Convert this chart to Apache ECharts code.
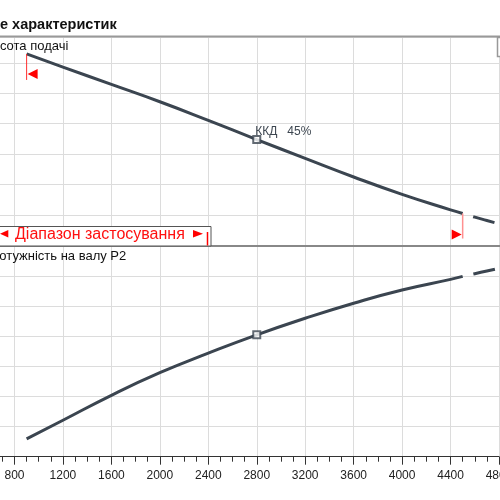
<!DOCTYPE html>
<html><head><meta charset="utf-8">
<script src="https://cdn.jsdelivr.net/npm/echarts@6/dist/echarts.min.js"></script>
<style>html,body{margin:0;padding:0;background:#fff;overflow:hidden}#c{width:500px;height:500px}</style>
</head><body><div id="c"></div>
<script>
// ---- data ----
const flowSolid  = [900, 1200, 1600, 2000, 2400, 2800, 3200, 3600, 4000, 4400, 4500];
const headSolid  = [6.29, 5.86, 5.29, 4.72, 4.11, 3.48, 2.86, 2.25, 1.68, 1.17, 1.05];
const powerSolid = [0.59, 1.21, 2.04, 2.79, 3.44, 4.05, 4.60, 5.10, 5.54, 5.89, 5.99];
const flowExt  = [4500, 4600, 4700, 4800];
const headExt  = [1.05, 0.93, 0.82, 0.71];
const powerExt = [5.99, 6.08, 6.17, 6.26];
const dutyFlow = 2800;
const dutyLabel = 'ККД   45%';
const rangeFlow = [900, 4500];
const chartTitle = 'е характеристик';
const headTitle = 'Висота подачі';
const powerTitle = 'Потужність на валу P2';
const rangeText = 'Діапазон застосування';

const FONT = "'Liberation Sans', Arial, sans-serif";
const LINE = '#3b4550';
const GRIDC = '#dcdcdc';
const zip = (xs, ys) => xs.map((x, i) => [x, ys[i]]);
const dutyIdx = flowSolid.indexOf(dutyFlow);

const chart = echarts.init(document.getElementById('c'), null, {renderer: 'canvas'});
const xBase = {
  type: 'value', min: 400, max: 4800, interval: 400,
  splitLine: {show: true, lineStyle: {color: GRIDC, width: 1}}
};
const yBase = {
  type: 'value', min: 0, interval: 1,
  axisLine: {show: false}, axisTick: {show: false}, axisLabel: {show: false},
  splitLine: {show: true, lineStyle: {color: GRIDC, width: 1}}
};
chart.setOption({
  animation: false,
  backgroundColor: '#fff',
  grid: [
    {left: -33.95, width: 532.95, top: 37, height: 208.5, containLabel: false, outerBoundsMode: 'none'},
    {left: -33.95, width: 532.95, top: 246, height: 210.7, containLabel: false, outerBoundsMode: 'none'}
  ],
  xAxis: [
    Object.assign({}, xBase, {gridIndex: 0, axisLine: {show: false}, axisTick: {show: false}, axisLabel: {show: false}}),
    Object.assign({}, xBase, {gridIndex: 1,
      axisLine: {show: true, onZero: false, lineStyle: {color: '#333', width: 1}},
      axisTick: {show: true, length: 8, lineStyle: {color: '#333'}},
      minorTick: {show: true, splitNumber: 4, length: 5, lineStyle: {color: '#333'}},
      axisLabel: {show: true, margin: 13, fontSize: 12, color: '#222', fontFamily: FONT,
                  formatter: v => String(v), hideOverlap: false}
    })
  ],
  yAxis: [
    Object.assign({}, yBase, {gridIndex: 0, max: 6.847}),
    Object.assign({}, yBase, {gridIndex: 1, max: 7})
  ],
  series: [
    {type: 'line', xAxisIndex: 0, yAxisIndex: 0, data: zip(flowSolid, headSolid), smooth: 0.5,
     showSymbol: false, lineStyle: {color: LINE, width: 3}, z: 5},
    {type: 'line', xAxisIndex: 0, yAxisIndex: 0, data: zip(flowExt, headExt), smooth: 0.5,
     showSymbol: false, lineStyle: {color: LINE, width: 3, type: [22, 11], dashOffset: 22}, z: 5},
    {type: 'line', xAxisIndex: 1, yAxisIndex: 1, data: zip(flowSolid, powerSolid), smooth: 0.5,
     showSymbol: false, lineStyle: {color: LINE, width: 3}, z: 5},
    {type: 'line', xAxisIndex: 1, yAxisIndex: 1, data: zip(flowExt, powerExt), smooth: 0.5,
     showSymbol: false, lineStyle: {color: LINE, width: 3, type: [22, 11], dashOffset: 22}, z: 5},
    {type: 'scatter', xAxisIndex: 0, yAxisIndex: 0, data: [[dutyFlow, headSolid[dutyIdx]]],
     symbol: 'rect', symbolSize: 7, itemStyle: {color: '#fff', borderColor: LINE, borderWidth: 2}, z: 6},
    {type: 'scatter', xAxisIndex: 1, yAxisIndex: 1, data: [[dutyFlow, powerSolid[dutyIdx]]],
     symbol: 'rect', symbolSize: 7, itemStyle: {color: '#fff', borderColor: LINE, borderWidth: 2}, z: 6}
  ]
});

const pL = chart.convertToPixel({gridIndex: 0}, [rangeFlow[0], headSolid[0]]);
const pR = chart.convertToPixel({gridIndex: 0}, [rangeFlow[1], headSolid[headSolid.length - 1]]);
const pD = chart.convertToPixel({gridIndex: 0}, [dutyFlow, headSolid[dutyIdx]]);

const G = [
  {type: 'text', x: 0, y: 25, z: 100, style: {text: chartTitle, font: 'bold 14.5px ' + FONT, fill: '#111', verticalAlign: 'middle'}},
  {type: 'line', z: 100, shape: {x1: 0, y1: 36.5, x2: 500, y2: 36.5}, style: {stroke: '#999', lineWidth: 2}},
  {type: 'line', z: 100, shape: {x1: 0, y1: 246, x2: 500, y2: 246}, style: {stroke: '#888', lineWidth: 2}},
  {type: 'rect', z: 100, shape: {x: 497.5, y: 37.5, width: 6, height: 19}, style: {fill: '#fff', stroke: '#999', lineWidth: 1.5}},
  {type: 'text', x: -16, y: 46, z: 100, style: {text: headTitle, font: '13px ' + FONT, fill: '#111', verticalAlign: 'middle'}},
  {type: 'text', x: -10, y: 256, z: 100, style: {text: powerTitle, font: '13px ' + FONT, fill: '#111', verticalAlign: 'middle'}},
  {type: 'text', x: pD[0] - 1.5, y: pD[1] - 8, z: 100, style: {text: dutyLabel, font: '12px ' + FONT, fill: '#3d4650', verticalAlign: 'middle'}},
  // range markers
  {type: 'line', z: 100, shape: {x1: pL[0], y1: pL[1], x2: pL[0], y2: pL[1] + 26}, style: {stroke: '#ff3030', lineWidth: 1}},
  {type: 'polygon', z: 100, shape: {points: [[pL[0] + 1, pL[1] + 20], [pL[0] + 11, pL[1] + 15], [pL[0] + 11, pL[1] + 25]]}, style: {fill: '#ff0000'}},
  {type: 'line', z: 100, shape: {x1: pR[0], y1: pR[1], x2: pR[0], y2: pR[1] + 25}, style: {stroke: '#ff9090', lineWidth: 1.5}},
  {type: 'polygon', z: 100, shape: {points: [[pR[0] - 1, pR[1] + 21], [pR[0] - 11, pR[1] + 16], [pR[0] - 11, pR[1] + 26]]}, style: {fill: '#ff0000'}},
  // range box
  {type: 'rect', z: 100, shape: {x: -2, y: 226.5, width: 213, height: 19.5}, style: {fill: '#fff', stroke: '#555', lineWidth: 1}},
  {type: 'polygon', z: 101, shape: {points: [[0, 233.7], [8.3, 230], [8.3, 237.4]]}, style: {fill: '#ff0000'}},
  {type: 'text', x: 15, y: 235, z: 101, style: {text: rangeText, font: '16px ' + FONT, fill: '#ff1010', verticalAlign: 'middle'}},
  {type: 'polygon', z: 101, shape: {points: [[193, 230], [203, 233.7], [193, 237.4]]}, style: {fill: '#ff0000'}},
  {type: 'line', z: 101, shape: {x1: 207.5, y1: 232, x2: 207.5, y2: 245.5}, style: {stroke: '#ff0000', lineWidth: 1.5}}
];
chart.setOption({graphic: G});
</script>
</body></html>
